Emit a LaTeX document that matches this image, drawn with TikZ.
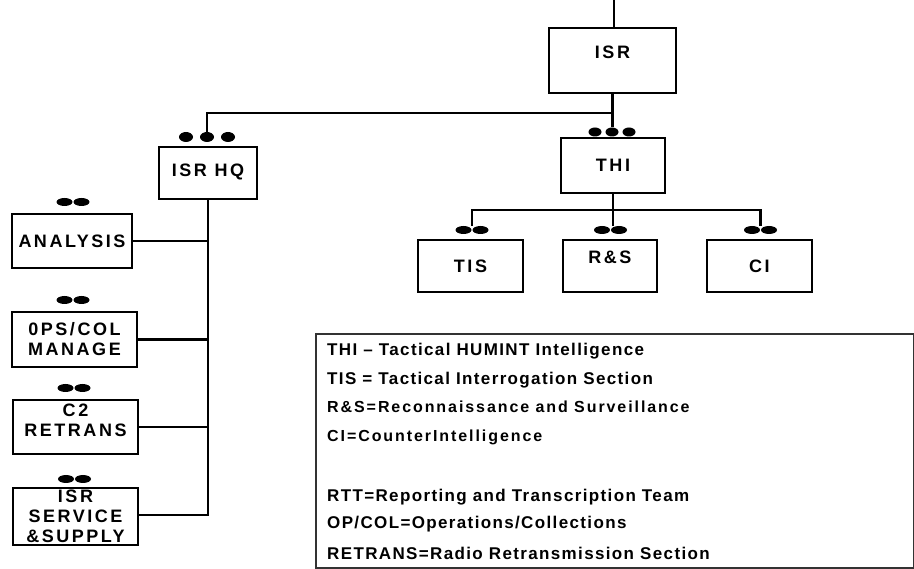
\documentclass[tikz,border=0pt]{standalone}
\usepackage{fontspec}
\setmainfont{Liberation Sans}
\newfontfamily\boxfont[LetterSpace=14]{Liberation Sans}
\newfontfamily\legfont[LetterSpace=8]{Liberation Sans}
\newfontfamily\legfontb[LetterSpace=12]{Liberation Sans}
\begin{document}
\begin{tikzpicture}[x=1pt,y=-1pt,
  box/.style={draw, line width=2.6pt, inner sep=0pt, align=center,
    font=\boxfont\bfseries\fontsize{18}{20}\selectfont},
  conn/.style={line width=2.2pt},
  hqdots/.style={inner sep=0pt, minimum width=58pt, minimum height=10pt,
    path picture={\foreach \i in {-1,0,1}
      \fill ([xshift=\i*21pt]path picture bounding box.center) ellipse [x radius=7pt, y radius=5pt];}},
  thidots/.style={inner sep=0pt, minimum width=48pt, minimum height=9pt,
    path picture={\foreach \i in {-1,0,1}
      \fill ([xshift=\i*17pt]path picture bounding box.center) ellipse [x radius=6.5pt, y radius=4.5pt];}},
  twodots/.style={inner sep=0pt, minimum width=34pt, minimum height=8pt,
    path picture={\foreach \i in {-1,1}
      \fill ([xshift=\i*8.5pt]path picture bounding box.center) ellipse [x radius=8pt, y radius=4pt];}},
  leg/.style={anchor=base west, inner sep=0pt, font=\legfont\bfseries\fontsize{17}{19}\selectfont},
  legb/.style={anchor=base west, inner sep=0pt, font=\legfontb\bfseries\fontsize{16}{18}\selectfont}
]
\useasboundingbox (0,0) rectangle (914,569);

% top part
\node[box, minimum width=127pt, minimum height=65pt, text depth=17pt] (isr) at (612.5,60.5) {ISR};
\node[thidots] (thid) at (612,132) {};
\node[box, minimum width=104pt, minimum height=55pt] (thi) at (613,165.5) {THI};
\node[twodots] (tisd) at (472,230) {};
\node[twodots] (rsd) at (610.5,230) {};
\node[twodots] (cid) at (760.5,230) {};
\node[box, minimum width=105pt, minimum height=52pt] (tis) at (470.5,266) {TIS};
\node[box, minimum width=94pt, minimum height=52pt, text depth=18pt] (rs) at (610,266) {R\&S};
\node[box, minimum width=105pt, minimum height=52pt] (ci) at (759.5,266) {CI};

% left part
\node[hqdots] (hqd) at (207,137) {};
\node[box, minimum width=98pt, minimum height=52pt, text depth=6pt] (hq) at (208,173) {ISR HQ};
\node[twodots] (anad) at (73,202) {};
\node[box, minimum width=120pt, minimum height=54pt] (ana) at (72,241) {ANALYSIS};
\node[twodots] (opsd) at (73,300) {};
\node[box, minimum width=125pt, minimum height=55pt] (ops) at (74.5,339.5) {0PS/COL\\MANAGE};
\node[twodots] (c2d) at (74,388) {};
\node[box, minimum width=125pt, minimum height=54pt, text depth=14pt] (c2) at (75.5,427) {C2\\RETRANS};
\node[twodots] (svcd) at (74.5,479) {};
\node[box, minimum width=125pt, minimum height=57pt] (svc) at (75.5,516.5) {ISR\\SERVICE\\\&SUPPLY};

% connectors
\coordinate (top) at (614,0);
\draw[conn] (top) -- (top |- isr.north);
\coordinate (j1) at (612.5,113);
\draw[conn] (isr.south) -- (isr.south |- thid.north);
\draw[conn] (j1) -| (hqd.north);
\coordinate (j2) at (613,210);
\draw[conn] (thi.south) -- (thi.south |- rsd.north);
\draw[conn] (tisd.north) |- (j2) -| (cid.north);
\coordinate (spineend) at (208,515);
\draw[conn] (hq.south) -- (spineend) -- (spineend -| svc.east);
\draw[conn] (ana.east) -- (ana.east -| hq.south);
\draw[conn] (ops.east) -- (ops.east -| hq.south);
\draw[conn] (c2.east) -- (c2.east -| hq.south);

% legend
\node[draw=black!80, line width=1.6pt, minimum width=598pt, minimum height=234pt, inner sep=0pt, anchor=north west] (legend) at (315,333) {};
\node[leg] (l1) at (327,356) {THI – Tactical HUMINT Intelligence};
\node[leg] (l2) at (327,385) {TIS = Tactical Interrogation Section};
\node[legb] (l3) at (327,413) {R\&S=Reconnaissance and Surveillance};
\node[legb] (l4) at (327,442) {CI=CounterIntelligence};
\node[leg] (l6) at (327,502) {RTT=Reporting and Transcription Team};
\node[leg] (l7) at (327,529) {OP/COL=Operations/Collections};
\node[leg] (l8) at (327,559) {RETRANS=Radio Retransmission Section};
\end{tikzpicture}
\end{document}
